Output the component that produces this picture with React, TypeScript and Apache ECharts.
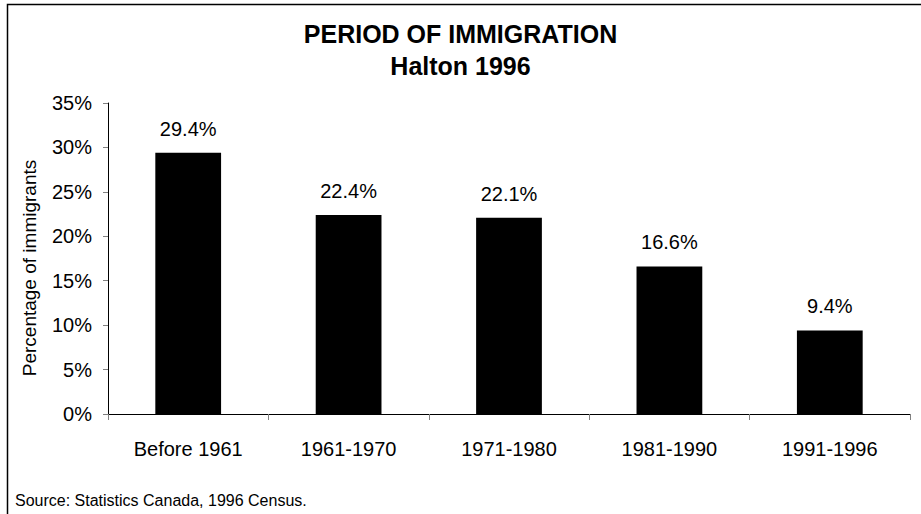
import React, { useEffect, useRef } from "react";
import * as echarts from "echarts";

const categories = ["Before 1961", "1961-1970", "1971-1980", "1981-1990", "1991-1996"];
const values = [29.4, 22.4, 22.1, 16.6, 9.4];
const titleText = "PERIOD OF IMMIGRATION";
const subtitleText = "Halton 1996";
const yAxisName = "Percentage of immigrants";
const sourceText = "Source: Statistics Canada, 1996 Census.";

export default function App() {
  const ref = useRef<HTMLDivElement>(null);
  useEffect(() => {
    if (!ref.current) return;
    const chart = echarts.init(ref.current, null, { renderer: "svg" });
    const font = "Liberation Sans, Arial, sans-serif";
    chart.setOption({
      animation: false,
      backgroundColor: "#ffffff",
      textStyle: { fontFamily: font },
      title: [
        {
          text: titleText,
          left: "center",
          top: 16,
          textStyle: { fontSize: 25, fontWeight: "bold", color: "#000", fontFamily: font },
        },
        {
          text: subtitleText,
          left: "center",
          top: 48,
          textStyle: { fontSize: 25, fontWeight: "bold", color: "#000", fontFamily: font },
        },
        {
          text: sourceText,
          left: 10,
          top: 487,
          textStyle: { fontSize: 16, fontWeight: "normal", color: "#000", fontFamily: font },
        },
      ],
      graphic: [
        {
          type: "rect",
          shape: { x: 7.5, y: 4.5, width: 1000, height: 1000 },
          style: { fill: "none", stroke: "#000", lineWidth: 1.5 },
          silent: true,
        },
        {
          type: "text",
          x: 29,
          y: 268,
          rotation: Math.PI / 2,
          style: {
            text: yAxisName,
            fontSize: 19,
            fontFamily: font,
            fill: "#000",
            align: "center",
            verticalAlign: "middle",
          },
          silent: true,
        },
      ],
      grid: { left: 108, top: 103, right: 11, bottom: 100, containLabel: false },
      xAxis: {
        type: "category",
        data: categories,
        axisLine: { lineStyle: { color: "#000", width: 1 } },
        axisTick: { show: true, alignWithLabel: false, length: 6, lineStyle: { color: "#808080" } },
        axisLabel: { color: "#000", fontSize: 20, margin: 25, fontFamily: font },
      },
      yAxis: {
        type: "value",
        min: 0,
        max: 35,
        interval: 5,
        axisLine: { show: true, lineStyle: { color: "#000", width: 1 } },
        axisTick: { show: true, length: 5, lineStyle: { color: "#808080" } },
        axisLabel: { color: "#000", fontSize: 20, margin: 16, formatter: "{value}%", fontFamily: font },
        splitLine: { show: false },
      },
      series: [
        {
          type: "bar",
          data: values,
          barWidth: "41%",
          itemStyle: { color: "#000" },
          label: {
            show: true,
            position: "top",
            distance: 14,
            color: "#000",
            fontSize: 20,
            fontFamily: font,
            formatter: (p: any) => p.value.toFixed(1) + "%",
          },
        },
      ],
    });
    return () => chart.dispose();
  }, []);
  return (
    <div
      ref={ref}
      style={{ position: "fixed", left: 0, top: 0, width: 921, height: 514 }}
    />
  );
}
